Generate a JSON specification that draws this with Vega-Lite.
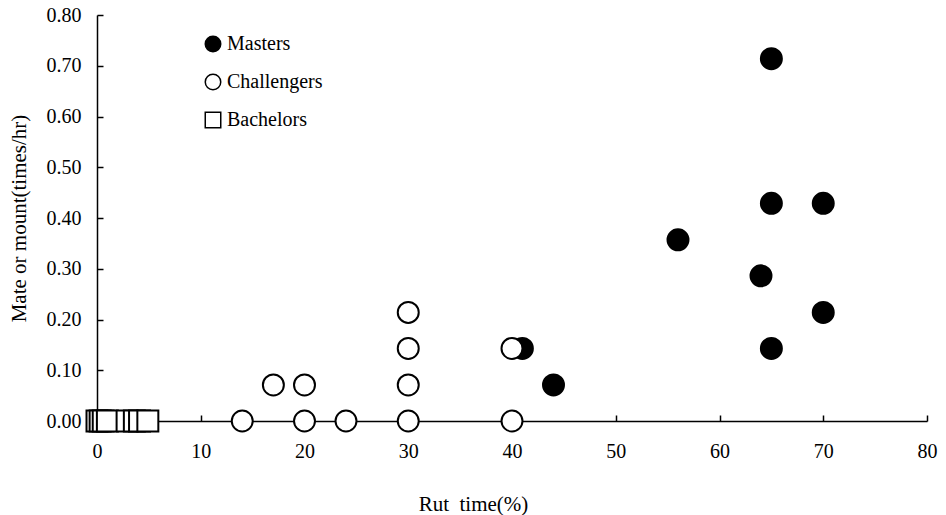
{
  "$schema": "https://vega.github.io/schema/vega-lite/v6.json",
  "width": 830,
  "height": 406,
  "autosize": "none",
  "padding": {"left": 97, "top": 15, "right": 19, "bottom": 94},
  "background": "white",
  "config": {
    "view": {"stroke": null},
    "font": "Liberation Serif",
    "axis": {
      "grid": false,
      "domainColor": "black",
      "domainWidth": 1.5,
      "tickColor": "black",
      "tickWidth": 1.5,
      "labelFont": "Liberation Serif",
      "labelFontSize": 20,
      "labelFontWeight": "normal",
      "labelColor": "black",
      "titleFont": "Liberation Serif",
      "titleFontSize": 21,
      "titleFontWeight": "normal",
      "titleColor": "black"
    },
    "legend": {
      "labelFont": "Liberation Serif",
      "labelFontSize": 20,
      "labelColor": "black"
    }
  },
  "data": {
    "values": [
      {"group": "Masters", "rut": 65, "rate": 0.714},
      {"group": "Masters", "rut": 65, "rate": 0.429},
      {"group": "Masters", "rut": 70, "rate": 0.429},
      {"group": "Masters", "rut": 56, "rate": 0.357},
      {"group": "Masters", "rut": 64, "rate": 0.286},
      {"group": "Masters", "rut": 70, "rate": 0.214},
      {"group": "Masters", "rut": 65, "rate": 0.143},
      {"group": "Masters", "rut": 41, "rate": 0.143},
      {"group": "Masters", "rut": 44, "rate": 0.071},
      {"group": "Challengers", "rut": 30, "rate": 0.214},
      {"group": "Challengers", "rut": 30, "rate": 0.143},
      {"group": "Challengers", "rut": 40, "rate": 0.143},
      {"group": "Challengers", "rut": 17, "rate": 0.071},
      {"group": "Challengers", "rut": 20, "rate": 0.071},
      {"group": "Challengers", "rut": 30, "rate": 0.071},
      {"group": "Challengers", "rut": 14, "rate": 0},
      {"group": "Challengers", "rut": 20, "rate": 0},
      {"group": "Challengers", "rut": 24, "rate": 0},
      {"group": "Challengers", "rut": 30, "rate": 0},
      {"group": "Challengers", "rut": 40, "rate": 0},
      {"group": "Bachelors", "rut": 0, "rate": 0},
      {"group": "Bachelors", "rut": 0.3, "rate": 0},
      {"group": "Bachelors", "rut": 0.6, "rate": 0},
      {"group": "Bachelors", "rut": 1.0, "rate": 0},
      {"group": "Bachelors", "rut": 2.9, "rate": 0},
      {"group": "Bachelors", "rut": 3.6, "rate": 0},
      {"group": "Bachelors", "rut": 4.1, "rate": 0},
      {"group": "Bachelors", "rut": 4.9, "rate": 0}
    ]
  },
  "mark": {"type": "point", "filled": true, "opacity": 1, "stroke": "black", "strokeWidth": 2, "size": 440},
  "encoding": {
    "x": {
      "field": "rut",
      "type": "quantitative",
      "scale": {"domain": [0, 80], "nice": false},
      "axis": {
        "values": [0, 10, 20, 30, 40, 50, 60, 70, 80],
        "format": "d",
        "tickSize": -6,
        "labelPadding": 26,
        "labelFlush": false,
        "labelFont": "Liberation Serif",
        "title": "Rut\u00a0\u00a0time(%)",
        "titleX": 376,
        "titleY": 89,
        "titleBaseline": "alphabetic",
        "titleAlign": "center"
      }
    },
    "y": {
      "field": "rate",
      "type": "quantitative",
      "scale": {"domain": [0, 0.8], "nice": false},
      "axis": {
        "values": [0, 0.1, 0.2, 0.3, 0.4, 0.5, 0.6, 0.7, 0.8],
        "format": ".2f",
        "tickSize": -6,
        "labelPadding": 22,
        "labelFlush": false,
        "labelFont": "Liberation Serif",
        "title": "Mate or mount(times/hr)",
        "titleX": -78,
        "titleY": 203,
        "titleAngle": 270,
        "titleBaseline": "middle",
        "titleAlign": "center"
      }
    },
    "shape": {
      "field": "group",
      "type": "nominal",
      "scale": {"domain": ["Masters", "Challengers", "Bachelors"], "range": ["circle", "circle", "square"]},
      "legend": {
        "title": null,
        "orient": "none",
        "legendX": 106,
        "legendY": 19,
        "symbolSize": 240,
        "rowPadding": 16,
        "labelOffset": 4,
        "encode": {
          "symbols": {
            "update": {
              "stroke": {"value": "black"},
              "strokeWidth": {"value": 2},
              "opacity": {"value": 1}
            }
          }
        }
      }
    },
    "fill": {
      "field": "group",
      "type": "nominal",
      "scale": {"domain": ["Masters", "Challengers", "Bachelors"], "range": ["black", "white", "white"]},
      "legend": {
        "title": null,
        "orient": "none",
        "legendX": 106,
        "legendY": 19,
        "symbolSize": 240,
        "rowPadding": 16,
        "labelOffset": 4,
        "encode": {
          "symbols": {
            "update": {
              "stroke": {"value": "black"},
              "strokeWidth": {"value": 2},
              "opacity": {"value": 1}
            }
          }
        }
      }
    }
  }
}
